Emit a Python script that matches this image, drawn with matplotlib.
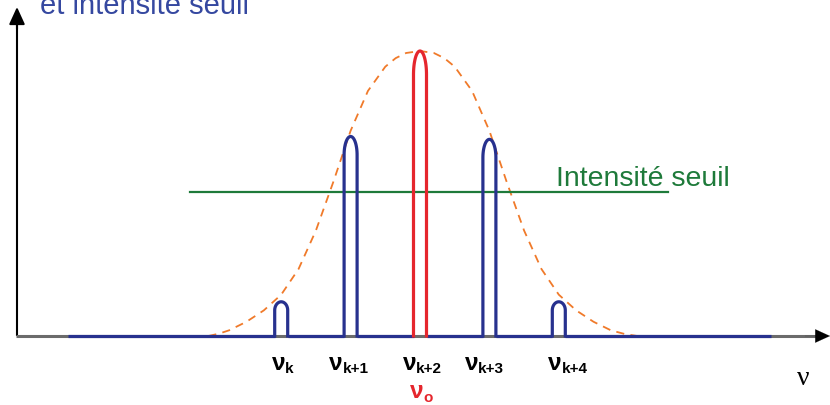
import numpy as np
import matplotlib
matplotlib.use("Agg")
import matplotlib.pyplot as plt

# ---------------- data ----------------
mode_labels = ["k", "k+1", "k+2", "k+3", "k+4"]
mode_pos = [0, 1, 2, 3, 4]                      # mode index (frequency, in mode spacings)
mode_height = [0.12, 0.70, 1.00, 0.69, 0.12]    # relative intensity
mode_colors = ["#27318E", "#27318E", "#E5262D", "#27318E", "#27318E"]

# gain envelope (dashed), read at positions relative to the central mode
env_x = [-3.05, -2.9, -2.75, -2.5, -2.25, -2.0, -1.75, -1.5, -1.25, -1.0, -0.75, -0.5,
         -0.35, -0.2, 0.0, 0.2, 0.35, 0.5, 0.75, 1.0, 1.25, 1.5, 1.75, 2.0, 2.25, 2.5,
         2.75, 2.95, 3.13]
env_y = [0.0, 0.008, 0.02, 0.05, 0.09, 0.145, 0.235, 0.37, 0.54, 0.72, 0.86, 0.945,
         0.975, 0.993, 1.0, 0.993, 0.975, 0.945, 0.86, 0.72, 0.54, 0.37, 0.235, 0.145,
         0.09, 0.05, 0.02, 0.007, 0.0]

threshold = 0.505
threshold_label = "Intensité seuil"
title_text = "et intensité seuil"

# ---------------- layout helpers (pixel geometry of the reference) ----------------
PX_PER_MODE = 69.4
X_CENTER_PX = 420.0
Y_BASE_PX = 337.0
PX_PER_UNIT = 285.0
LABEL_SHIFT_PX = [1.5, -1.5, 2.5, -5.0, 9.0]

def fx(px):
    return 2 + (px - X_CENTER_PX) / PX_PER_MODE

def hy(py):
    return (Y_BASE_PX - py) / PX_PER_UNIT

def dpx(px):
    return px / PX_PER_MODE

fig = plt.figure(figsize=(8.30, 4.06), dpi=100)
ax = fig.add_axes([0, 0, 1, 1])
ax.set_xlim(fx(0), fx(830))
ax.set_ylim(hy(406), hy(0))
ax.axis("off")

# ---------------- axes with arrows ----------------
ax.plot([fx(17), fx(17)], [0, hy(20)], color="black", lw=1.5, solid_capstyle="butt", zorder=2)
ax.annotate("", xy=(fx(17), hy(8)), xytext=(fx(17), hy(30)),
            arrowprops=dict(arrowstyle="-|>,head_length=0.7,head_width=0.32",
                            mutation_scale=15, color="black", lw=1.5,
                            shrinkA=0, shrinkB=0), zorder=3)
ax.plot([fx(16), fx(818)], [0, 0], color="#6B6B6B", lw=2.2, solid_capstyle="butt", zorder=2)
ax.annotate("", xy=(fx(830), 0), xytext=(fx(805), 0),
            arrowprops=dict(arrowstyle="-|>,head_length=0.7,head_width=0.32",
                            mutation_scale=15, color="black", lw=0.1,
                            shrinkA=0, shrinkB=0), zorder=3)

# ---------------- gain envelope ----------------
env_xs = [2 + v for v in env_x]
ax.plot(env_xs, env_y, color="#F07A2A", lw=1.3, linestyle=(0, (4.5, 3.5)),
        solid_joinstyle="round", zorder=3)

# ---------------- threshold ----------------
ax.plot([fx(190), fx(668)], [threshold, threshold], color="#1E7A3A", lw=1.6, zorder=3)
ax.text(fx(556), hy(186), threshold_label, color="#1E7A3A", fontsize=20.5,
        family="Liberation Sans", ha="left", va="baseline")

# ---------------- modes ----------------
half_w = dpx(6.5)
x_start, x_end = fx(68), fx(771)
blue = mode_colors[0]
edges = [x_start]
for m in mode_pos:
    edges += [m - half_w, m + half_w]
edges.append(x_end)
for i in range(0, len(edges), 2):
    ax.plot([edges[i], edges[i + 1]], [0, 0], color=blue, lw=2.3,
            solid_capstyle="butt", zorder=4)

t = np.linspace(np.pi, 0, 40)
for m, h, c in zip(mode_pos, mode_height, mode_colors):
    a = (6.5 + 0.06 * h * PX_PER_UNIT) / PX_PER_UNIT
    xs = np.concatenate([[m - half_w], m + half_w * np.cos(t), [m + half_w]])
    ys = np.concatenate([[0], (h - a) + a * np.sin(t), [0]])
    ax.plot(xs, ys, color=c, lw=2.3, solid_joinstyle="round", zorder=5)

# ---------------- labels (ν + subscript, centred under each mode) ----------------
groups = []
for m, lab, sh in zip(mode_pos, mode_labels, LABEL_SHIFT_PX):
    t1 = ax.text(m, hy(370), "ν", fontsize=17.5, fontweight="bold",
                 family="Liberation Sans", ha="left", va="baseline", color="black")
    t2 = ax.text(m, hy(373), lab, fontsize=11, fontweight="bold",
                 family="Liberation Sans", ha="left", va="baseline", color="black")
    groups.append((m, t1, t2, dpx(sh)))
t1 = ax.text(2, hy(398), "ν", fontsize=17.5, fontweight="bold",
             family="Liberation Sans", ha="left", va="baseline", color="#E5262D")
t2 = ax.text(2, hy(402), "o", fontsize=11, fontweight="bold",
             family="Liberation Sans", ha="left", va="baseline", color="#E5262D")
groups.append((2, t1, t2, dpx(1.5)))

fig.canvas.draw()
renderer = fig.canvas.get_renderer()
for m, t1, t2, shift in groups:
    w1 = t1.get_window_extent(renderer).width
    w2 = t2.get_window_extent(renderer).width
    total = w1 + w2
    left = m - dpx(total / 2) + shift
    t1.set_x(left)
    t2.set_x(left + dpx(w1))

ax.text(fx(797), hy(385), "ν", fontsize=20, family="Liberation Serif",
        ha="left", va="baseline", color="black")

ax.text(fx(40), hy(14), title_text, fontsize=21, family="Liberation Sans",
        ha="left", va="baseline", color="#3548A0")

fig.savefig("out.png", dpi=100)
